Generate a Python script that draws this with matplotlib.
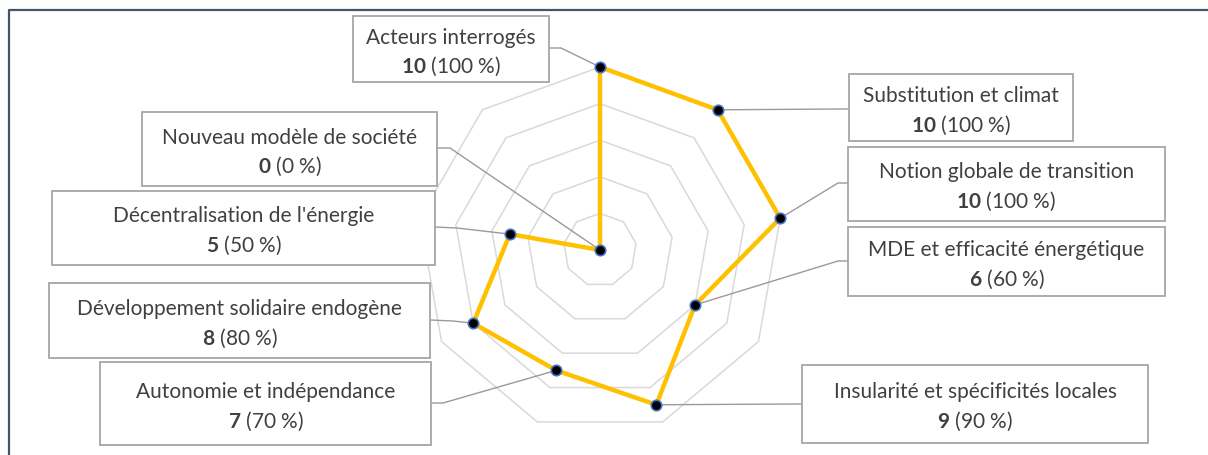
import numpy as np
import matplotlib
matplotlib.use("Agg")
import matplotlib.pyplot as plt
from matplotlib.patches import Rectangle
from matplotlib.lines import Line2D

# ----- DATA -----
categories = ["Acteurs interrogés", "Substitution et climat", "Notion globale de transition",
              "MDE et efficacité énergétique", "Insularité et spécificités locales",
              "Autonomie et indépendance", "Développement solidaire endogène",
              "Décentralisation de l'énergie", "Nouveau modèle de société"]
values = [10, 10, 10, 6, 9, 7, 8, 5, 0]
total = 10
ring_levels = [2, 4, 6, 8, 10]

# ----- LAYOUT (pixels, origin top-left) -----
W, H = 1208, 456
cx, cy = 600, 251          # centre of the radar
px_per_unit = 18.3         # radius of value 10 = 183 px

# label boxes: left, top, right, bottom
boxes = [(353, 17, 549, 83), (849, 75, 1073, 142), (848, 148, 1165, 222),
         (848, 228, 1165, 297), (802, 366, 1148, 444), (100, 363, 431, 446),
         (49, 284, 430, 359), (52, 192, 435, 266), (142, 113, 437, 187)]
# connector: box anchor, elbow
anchors = [((549, 49), (561, 49)), ((849, 110), (840, 110)), ((848, 184), (838, 184)),
           ((848, 262), (838, 262)), ((802, 405), (795, 405)), ((431, 404), (443, 404)),
           ((430, 321), (453, 322)), ((435, 228), (457, 229)), ((437, 149), (450, 149))]

plt.rcParams['font.family'] = ['Lato', 'DejaVu Sans']
plt.rcParams['mathtext.fontset'] = 'custom'
plt.rcParams['mathtext.rm'] = 'Lato'
plt.rcParams['mathtext.bf'] = 'Lato:bold'

fig = plt.figure(figsize=(W / 100, H / 100), dpi=100)
ax = fig.add_axes([0, 0, 1, 1])
ax.set_xlim(-cx / px_per_unit, (W - cx) / px_per_unit)
ax.set_ylim(-(H - cy) / px_per_unit, cy / px_per_unit)
ax.axis('off')


def px(x, y):
    # pixel (top-left origin) -> data coords
    return (x - cx) / px_per_unit, (cy - y) / px_per_unit


n = len(categories)
angles = np.arange(n) * 2 * np.pi / n
sx, cs = np.sin(angles), np.cos(angles)

# grid rings
for lv in ring_levels:
    ax.plot(np.append(lv * sx, lv * sx[0]), np.append(lv * cs, lv * cs[0]),
            color='#D9D9D9', lw=1.1, zorder=1)

vals = np.array(values, dtype=float)
xs, ys = vals * sx, vals * cs

# connectors
for i in range(n):
    (bx, by), (ex, ey) = anchors[i]
    p1, p2 = px(bx, by), px(ex, ey)
    ax.plot([p1[0], p2[0], xs[i]], [p1[1], p2[1], ys[i]], color='#9A9A9A', lw=1.0, zorder=2)

# series
ax.plot(np.append(xs, xs[0]), np.append(ys, ys[0]), color='#FFC000', lw=3.2, zorder=3,
        solid_joinstyle='round')
ax.plot(xs, ys, 'o', ms=7.5, mfc='black', mec='#4472C4', mew=1.2, zorder=4)

# label boxes
for i in range(n):
    l, t, r, b = boxes[i]
    x0, y0 = px(l, b)
    x1, y1 = px(r, t)
    ax.add_patch(Rectangle((x0, y0), x1 - x0, y1 - y0, facecolor='white',
                           edgecolor='#A6A6A6', lw=1.3, zorder=5))
    mx = (l + r) / 2
    my = (t + b) / 2 + 2
    pct = round(values[i] / total * 100)
    ax.text(*px(mx, my - 14.5), categories[i], ha='center', va='center',
            fontsize=15, color='#404040', zorder=6)
    ax.text(*px(mx, my + 14.5), r"$\mathbf{%d}$ (%d %%)" % (values[i], pct),
            ha='center', va='center', fontsize=15, color='#404040', zorder=6)

# outer frame (top and left edges visible)
fig.add_artist(Line2D([8.5 / W, 8.5 / W, 1], [0, 1 - 10.5 / H, 1 - 10.5 / H],
                      transform=fig.transFigure, color='#44546A', lw=1.6))

fig.savefig('out.png', dpi=100)
